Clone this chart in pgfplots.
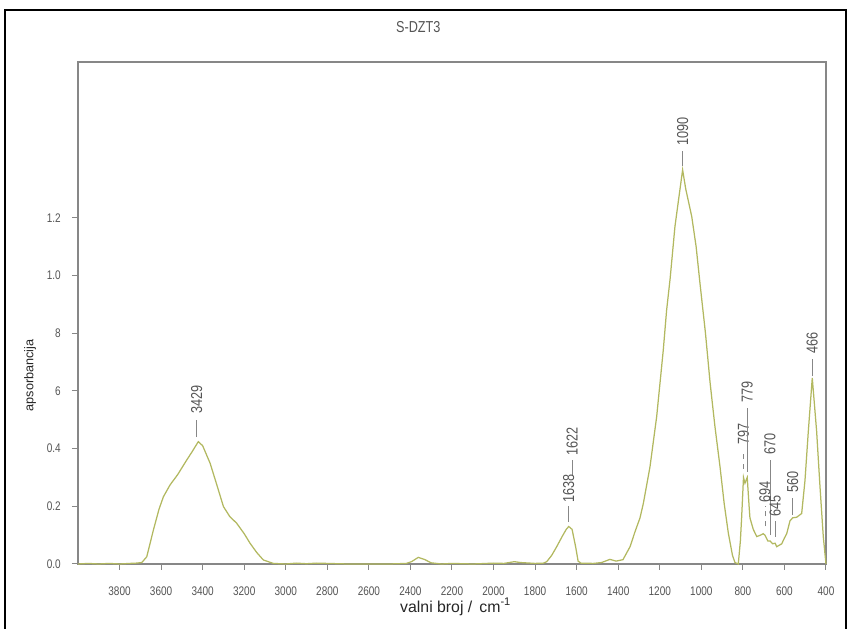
\documentclass[border=0pt]{standalone}
\usepackage{pgfplots}
\pgfplotsset{compat=1.18}
\usepackage{fontspec}
\setmainfont{Liberation Sans}
\newfontfamily\narrow[FakeStretch=0.8]{Liberation Sans}
\definecolor{specc}{RGB}{178,184,96}
\definecolor{axgray}{RGB}{135,135,135}
\definecolor{txtgray}{RGB}{85,85,85}
\begin{document}
\begin{tikzpicture}[x=0.6pt,y=0.6pt]
\useasboundingbox (0,0) rectangle (851,629);
\draw[black, line width=1.2pt] (5,-2) -- (5,619) -- (846,619) -- (846,-2);
\begin{axis}[
  at={(46.8pt,39pt)}, anchor=south west,
  width=448.8pt, height=301.2pt, scale only axis,
  x dir=reverse, xmin=400, xmax=4000, ymin=0, ymax=1.74,
  axis line style={draw=axgray, line width=1pt},
  tick style={draw=axgray, line width=0.6pt},
  tick align=outside, major tick length=3.6pt,
  xtick pos=bottom, ytick pos=left,
  xtick={400,600,...,3800},
  ytick={0,0.2,0.4,0.6,0.8,1.0,1.2},
  yticklabels={0.0,0.2,0.4,6,8,1.0,1.2},
  /pgf/number format/.cd, 1000 sep={}, assume math mode=true, /pgfplots/.cd,
  xticklabel style={font=\narrow\fontsize{7.5}{8}\selectfont, text=txtgray, anchor=center, inner sep=0pt, yshift=-12.6pt},
  yticklabel style={font=\narrow\fontsize{7.5}{8}\selectfont, text=txtgray, anchor=east, inner sep=0pt, xshift=-6.6pt},
  title={S-DZT3},
  title style={font=\narrow\fontsize{9.5}{10}\selectfont, text=txtgray, at={(axis description cs:0.455,1)}, anchor=center, yshift=15pt},
  xlabel={valni broj /\ \,cm\textsuperscript{-1}},
  xlabel style={font=\fontsize{9.5}{10}\selectfont, text=black!85, at={(axis description cs:0.505,0)}, anchor=center, yshift=-25.8pt},
  ylabel={apsorbancija},
  ylabel style={font=\fontsize{7.6}{8}\selectfont, text=black!85, at={(axis description cs:0,0.376)}, anchor=center, rotate=0, yshift=28.8pt},
  clip=false,
]
\addplot[specc, line width=0.75pt] table {
x y
4000 0.0
3950 0.002
3900 0.0
3850 0.002
3800 0.0
3750 0.002
3720 0.003
3693 0.005
3669 0.025
3637 0.118
3610 0.19
3589 0.233
3557 0.274
3520 0.31
3477 0.36
3450 0.39
3421 0.424
3400 0.41
3364 0.349
3330 0.27
3300 0.199
3270 0.165
3236 0.141
3200 0.105
3172 0.072
3140 0.04
3108 0.014
3060 0.002
3000 0.0
2950 0.003
2900 0.001
2850 0.003
2800 0.002
2700 0.0
2600 0.0
2500 0.0
2420 0.002
2395 0.008
2362 0.023
2330 0.015
2300 0.004
2250 0.0
2200 0.002
2100 0.0
2000 0.003
1950 0.002
1900 0.008
1870 0.005
1800 0.002
1760 0.003
1744 0.008
1720 0.03
1696 0.06
1670 0.095
1650 0.12
1638 0.13
1622 0.12
1605 0.06
1593 0.01
1580 0.003
1520 0.002
1480 0.005
1440 0.016
1410 0.01
1377 0.015
1343 0.06
1320 0.11
1295 0.16
1279 0.21
1247 0.337
1215 0.51
1183 0.742
1167 0.88
1150 0.99
1127 1.169
1110 1.26
1090 1.366
1075 1.30
1046 1.204
1025 1.10
1006 0.97
980 0.80
958 0.63
935 0.48
910 0.337
890 0.21
870 0.107
850 0.03
838 0.005
822 0.0
812 0.08
806 0.16
797 0.30
790 0.28
779 0.30
770 0.2
766 0.16
750 0.12
733 0.095
715 0.10
702 0.105
694 0.10
680 0.08
669 0.08
657 0.07
645 0.072
637 0.06
625 0.065
613 0.07
600 0.09
589 0.105
573 0.15
560 0.16
541 0.162
530 0.168
517 0.175
501 0.29
485 0.46
466 0.645
445 0.46
429 0.27
413 0.095
400 0.0
};
% peak annotations
\tikzset{pk/.style={rotate=90, font=\narrow\fontsize{9.5}{10}\selectfont, text=txtgray, inner sep=0pt}}
\draw[axgray] (axis cs:3429,0.44) -- (axis cs:3429,0.50);
\node[pk] at (axis cs:3429,0.57) {3429};
\draw[axgray] (axis cs:1090,1.38) -- (axis cs:1090,1.43);
\node[pk] at (axis cs:1090,1.50) {1090};
\draw[axgray] (axis cs:1622,0.305) -- (axis cs:1622,0.36);
\node[pk] at (axis cs:1622,0.425) {1622};
\draw[axgray] (axis cs:1638,0.146) -- (axis cs:1638,0.20);
\node[pk] at (axis cs:1638,0.263) {1638};
\draw[axgray, dashed] (axis cs:797,0.33) -- (axis cs:797,0.39);
\node[pk] at (axis cs:797,0.45) {797};
\draw[axgray] (axis cs:779,0.32) -- (axis cs:779,0.54);
\node[pk] at (axis cs:779,0.595) {779};
\draw[axgray, dashed] (axis cs:694,0.13) -- (axis cs:694,0.20);
\node[pk] at (axis cs:694,0.25) {694};
\draw[axgray] (axis cs:670,0.10) -- (axis cs:670,0.36);
\node[pk] at (axis cs:670,0.415) {670};
\draw[axgray] (axis cs:645,0.094) -- (axis cs:645,0.15);
\node[pk] at (axis cs:645,0.20) {645};
\draw[axgray] (axis cs:560,0.17) -- (axis cs:560,0.23);
\node[pk] at (axis cs:560,0.285) {560};
\draw[axgray] (axis cs:466,0.65) -- (axis cs:466,0.71);
\node[pk] at (axis cs:466,0.765) {466};
\end{axis}
\end{tikzpicture}
\end{document}
